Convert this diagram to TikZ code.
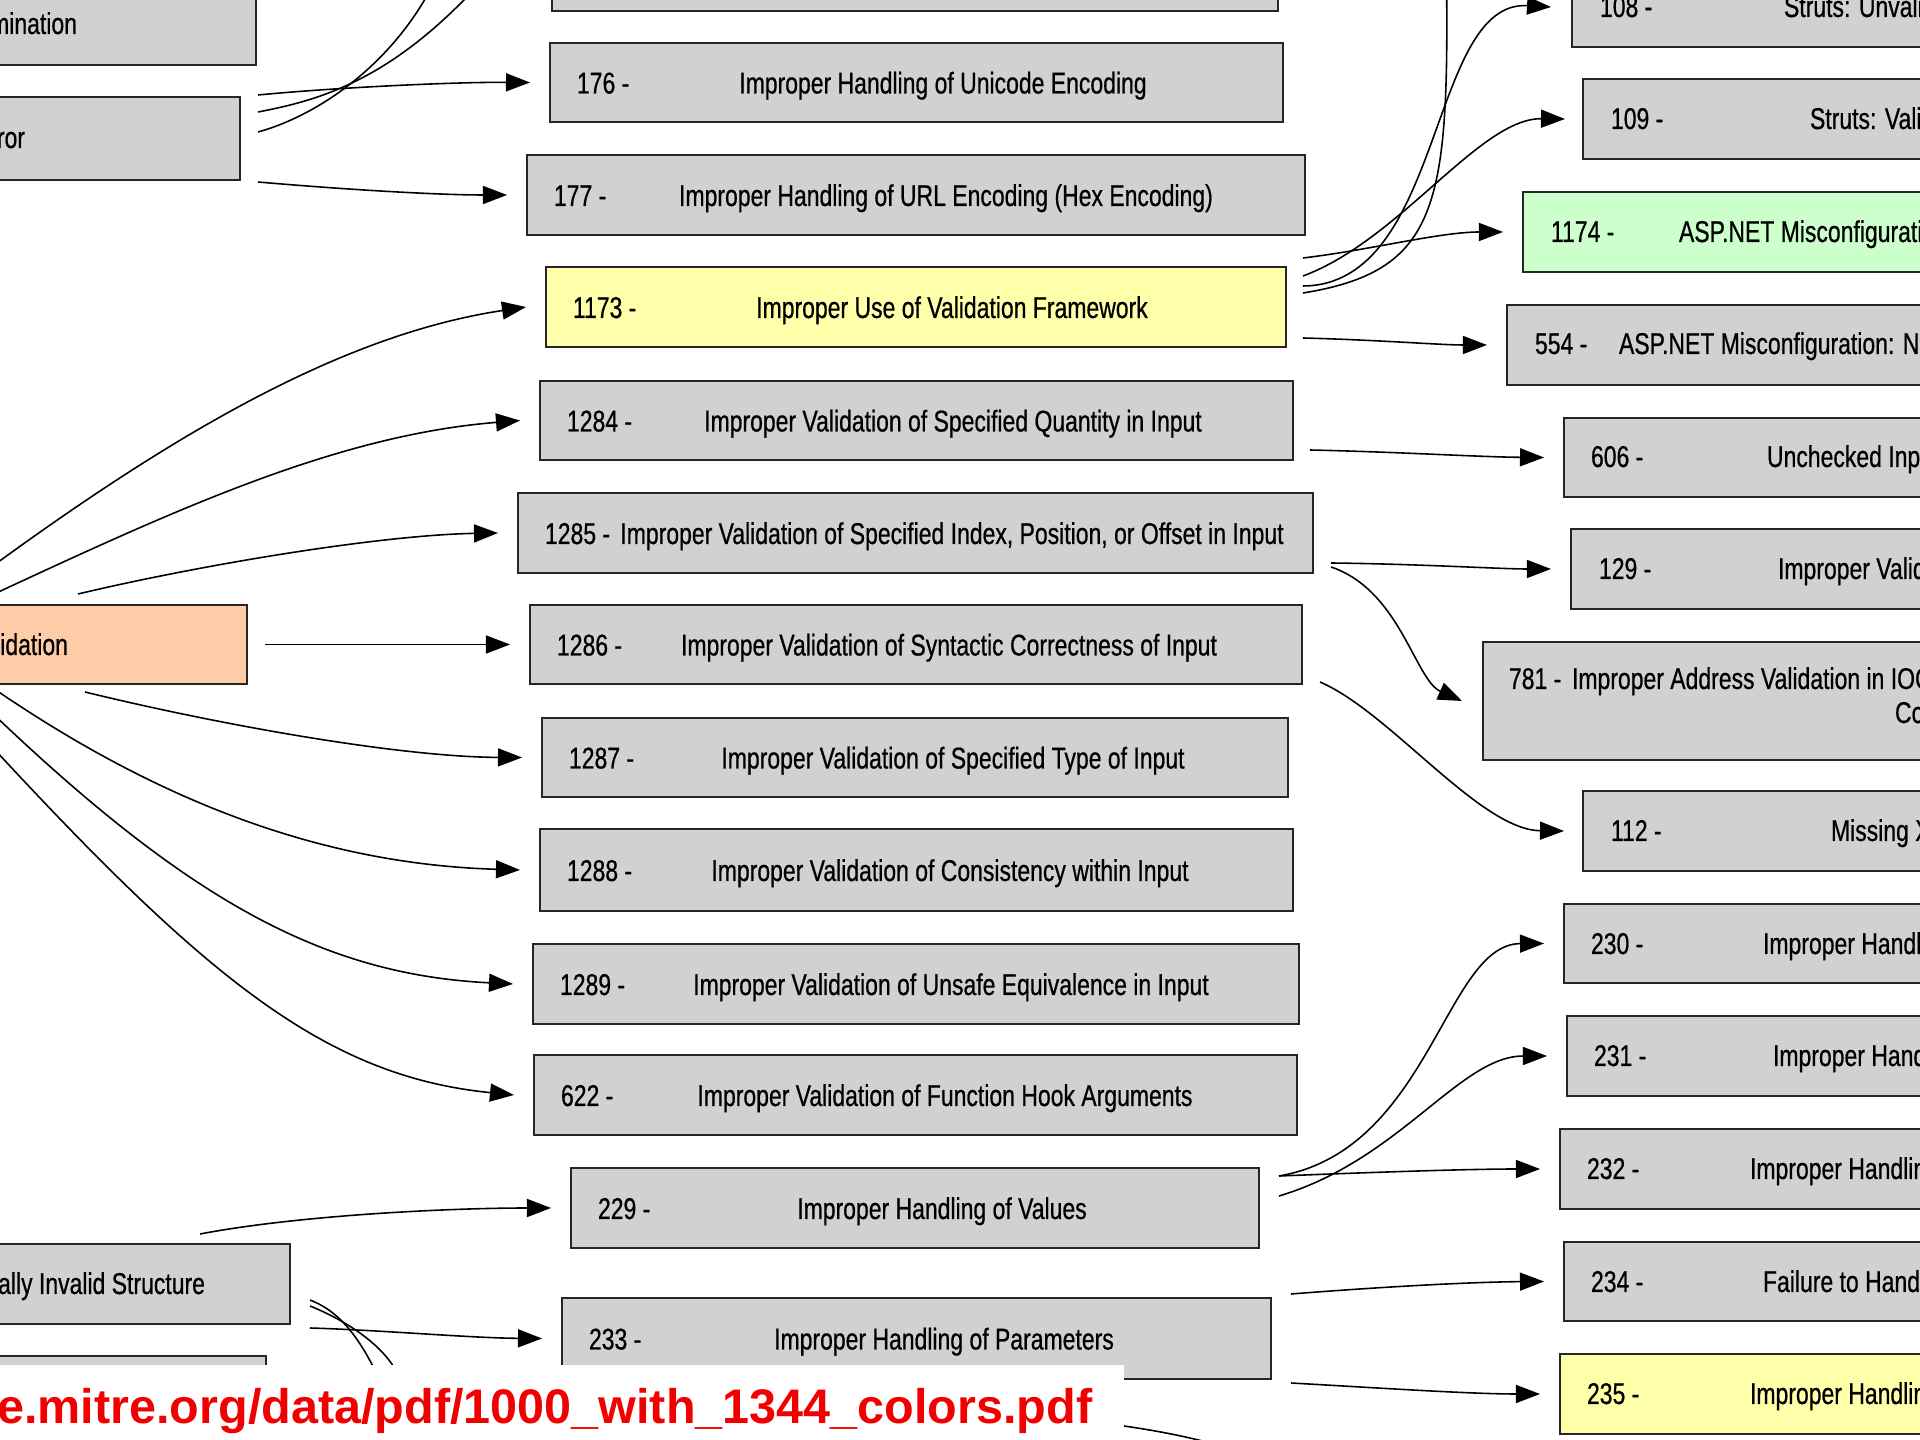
\documentclass[tikz,border=0pt]{standalone}
\usepackage{fontspec}
\newfontfamily\gvfont[FakeStretch=0.765,FakeBold=0.6]{Liberation Sans}
\newfontfamily\urlfont{Liberation Sans}
\usetikzlibrary{arrows.meta}
\definecolor{boxgray}{RGB}{209,209,209}
\definecolor{boxyellow}{RGB}{255,255,170}
\definecolor{boxgreen}{RGB}{204,255,204}
\definecolor{boxorange}{RGB}{255,204,168}
\definecolor{urlred}{RGB}{240,0,0}
\pgfdeclarelayer{canvas}
\pgfdeclarelayer{edges}
\pgfdeclarelayer{urllayer}
\pgfsetlayers{canvas,edges,main,urllayer}
\tikzset{
  gvboxst/.style={rectangle,draw=black!85,line width=0.6pt,inner sep=0pt,outer sep=0pt},
  gvtext/.style={font=\gvfont\fontsize{8.54pt}{10pt}\selectfont,inner sep=0pt,outer sep=0pt,text=black},
  gvedge/.style={line width=0.45pt,draw=black},
  gvarrow/.style={gvedge,-{Triangle[length=0.24cm,width=0.18cm]}},
}
\newcommand{\gvbox}[6]{\node[gvboxst,fill=#6,anchor=north west,minimum width={((#4)-(#2))*0.01cm},minimum height={((#5)-(#3))*0.01cm}] (#1) at (#2,#3) {};}
\newcommand{\gvnum}[4]{\node[gvtext,anchor=base west] (#1) at (#2,{#3+11}) {#4};}
\newcommand{\gvtitle}[4]{\node[gvtext,anchor=base] (#1) at (#2,{#3+11}) {#4};}
\newcommand{\gvtitlew}[4]{\node[gvtext,anchor=base west] (#1) at (#2,{#3+11}) {#4};}
\begin{document}
\begin{tikzpicture}[x=0.01cm,y=-0.01cm]
\useasboundingbox (0,0) rectangle (1920,1440);
\begin{pgfonlayer}{canvas}
\fill[white] (0,0) rectangle (1920,1440);
\end{pgfonlayer}

% ---------- left column ----------
\gvbox{b170}{-400}{-15}{256}{65}{boxgray}
\gvbox{b172}{-400}{97}{240}{180}{boxgray}
\gvbox{b20}{-400}{605}{247}{684}{boxorange}
\gvbox{b228}{-400}{1244}{290}{1324}{boxgray}
\gvbox{b237}{-400}{1356}{266}{1436}{boxgray}
\node[gvtext,anchor=base east] (t170) at (77,34) {mination};
\node[gvtext,anchor=base east] (t172) at (25,148) {ror};
\node[gvtext,anchor=base east] (t20) at (68,655) {idation};
\node[gvtext,anchor=base east] (t228) at (205,1294) {ally Invalid Structure};

% ---------- middle column ----------
\gvbox{b175}{552}{-69}{1278}{11}{boxgray}
\gvbox{b176}{550}{43}{1283}{122}{boxgray}
\gvbox{b177}{527}{155}{1305}{235}{boxgray}
\gvbox{b1173}{546}{267}{1286}{347}{boxyellow}
\gvbox{b1284}{540}{381}{1293}{460}{boxgray}
\gvbox{b1285}{518}{493}{1313}{573}{boxgray}
\gvbox{b1286}{530}{605}{1302}{684}{boxgray}
\gvbox{b1287}{542}{718}{1288}{797}{boxgray}
\gvbox{b1288}{540}{829}{1293}{911}{boxgray}
\gvbox{b1289}{533}{944}{1299}{1024}{boxgray}
\gvbox{b622}{534}{1055}{1297}{1135}{boxgray}
\gvbox{b229}{571}{1168}{1259}{1248}{boxgray}
\gvbox{b233}{562}{1298}{1271}{1379}{boxgray}

\gvnum{n176}{577}{82.5}{176 -}
\gvtitle{t176}{943}{82.5}{Improper Handling of Unicode Encoding}
\gvnum{n177}{554}{195}{177 -}
\gvtitle{t177}{946}{195}{Improper Handling of URL Encoding (Hex Encoding)}
\gvnum{n1173}{573}{307}{1173 -}
\gvtitle{t1173}{952}{307}{Improper Use of Validation Framework}
\gvnum{n1284}{567}{420.5}{1284 -}
\gvtitle{t1284}{953}{420.5}{Improper Validation of Specified Quantity in Input}
\gvnum{n1285}{545}{533}{1285 -}
\gvtitle{t1285}{952}{533}{Improper Validation of Specified Index, Position, or Offset in Input}
\gvnum{n1286}{557}{644.5}{1286 -}
\gvtitle{t1286}{949}{644.5}{Improper Validation of Syntactic Correctness of Input}
\gvnum{n1287}{569}{757.5}{1287 -}
\gvtitle{t1287}{953}{757.5}{Improper Validation of Specified Type of Input}
\gvnum{n1288}{567}{870}{1288 -}
\gvtitle{t1288}{950}{870}{Improper Validation of Consistency within Input}
\gvnum{n1289}{560}{984}{1289 -}
\gvtitle{t1289}{951}{984}{Improper Validation of Unsafe Equivalence in Input}
\gvnum{n622}{561}{1095}{622 -}
\gvtitle{t622}{945}{1095}{Improper Validation of Function Hook Arguments}
\gvnum{n229}{598}{1208}{229 -}
\gvtitle{t229}{942}{1208}{Improper Handling of Values}
\gvnum{n233}{589}{1338.5}{233 -}
\gvtitle{t233}{944}{1338.5}{Improper Handling of Parameters}

% ---------- right column ----------
\gvbox{b108}{1572}{-33}{2300}{47}{boxgray}
\gvbox{b109}{1583}{79}{2300}{159}{boxgray}
\gvbox{b1174}{1523}{192}{2300}{272}{boxgreen}
\gvbox{b554}{1507}{305}{2300}{385}{boxgray}
\gvbox{b606}{1564}{418}{2300}{497}{boxgray}
\gvbox{b129}{1571}{529}{2300}{609}{boxgray}
\gvbox{b781}{1483}{642}{2300}{760}{boxgray}
\gvbox{b112}{1583}{791}{2300}{871}{boxgray}
\gvbox{b230}{1564}{904}{2300}{983}{boxgray}
\gvbox{b231}{1567}{1016}{2300}{1096}{boxgray}
\gvbox{b232}{1560}{1129}{2300}{1209}{boxgray}
\gvbox{b234}{1564}{1242}{2300}{1321}{boxgray}
\gvbox{b235}{1560}{1354}{2300}{1434}{boxyellow}

\gvnum{n108}{1600}{6}{108 -}
\gvtitlew{t108}{1784}{6}{Struts: Unvalidated Action Form}
\gvnum{n109}{1611}{118}{109 -}
\gvtitlew{t109}{1810}{118}{Struts: Validator Turned Off}
\gvnum{n1174}{1551}{231}{1174 -}
\gvtitlew{t1174}{1679}{231}{ASP.NET Misconfiguration: Improper Model Validation}
\gvnum{n554}{1535}{343}{554 -}
\gvtitlew{t554}{1619}{343}{ASP.NET Misconfiguration: Not Using Input Validation Framework}
\gvnum{n606}{1591}{456}{606 -}
\gvtitlew{t606}{1767}{456}{Unchecked Input for Loop Condition}
\gvnum{n129}{1599}{568}{129 -}
\gvtitlew{t129}{1778}{568}{Improper Validation of Array Index}
\gvnum{n781}{1509}{678}{781 -}
\gvtitlew{t781}{1572}{678}{Improper Address Validation in IOCTL with METHOD\_NEITHER I/O}
\gvtitlew{t781b}{1895}{712}{Control Code}
\gvnum{n112}{1611}{830}{112 -}
\gvtitlew{t112}{1831}{830}{Missing XML Validation}
\gvnum{n230}{1591}{943}{230 -}
\gvtitlew{t230}{1763}{943}{Improper Handling of Missing Values}
\gvnum{n231}{1594}{1055}{231 -}
\gvtitlew{t231}{1773}{1055}{Improper Handling of Extra Values}
\gvnum{n232}{1587}{1168}{232 -}
\gvtitlew{t232}{1750}{1168}{Improper Handling of Undefined Values}
\gvnum{n234}{1591}{1281}{234 -}
\gvtitlew{t234}{1763}{1281}{Failure to Handle Missing Parameter}
\gvnum{n235}{1587}{1393}{235 -}
\gvtitlew{t235}{1750}{1393}{Improper Handling of Extra Parameters}

% ---------- free ends off the picture ----------
\coordinate (c172a) at (500,-40);
\coordinate (c172b) at (440,-30);
\coordinate (c20a) at (-60,605);
\coordinate (c20b) at (-60,619);
\coordinate (c20c) at (-60,650);
\coordinate (c20d) at (-60,662);
\coordinate (c20e) at (-60,690);
\coordinate (c228a) at (415,1480);
\coordinate (c228b) at (1240,1452);
\coordinate (c1173up) at (1446,-60);

% ---------- connectors ----------
\begin{pgfonlayer}{edges}
% from 172
\draw[gvarrow] ([shift={(18,-43.5)}]b172.east) .. controls (330,88) and (450,82) .. ([shift={(-20,0)}]b176.west);
\draw[gvedge] ([shift={(18,-26.5)}]b172.east) .. controls (320,100) and (400,80) .. (c172a);
\draw[gvedge] ([shift={(18,-6.5)}]b172.east) .. controls (320,115) and (400,60) .. (c172b);
\draw[gvarrow] ([shift={(18,43.5)}]b172.east) .. controls (350,190) and (440,195) .. ([shift={(-20,0)}]b177.west);
% into the middle column from the left
\draw[gvarrow] (c20a) .. controls (140,455) and (326,337) .. ([shift={(-20,0)}]b1173.west);
\draw[gvarrow] (c20b) .. controls (140,527) and (320,436.5) .. ([shift={(-20,0)}]b1284.west);
\draw[gvarrow] ([shift={(-169,-11)}]b20.north east) .. controls (200,565) and (380,535) .. ([shift={(-20,0)}]b1285.west);
\draw[gvarrow] ([shift={(18,0)}]b20.east) -- ([shift={(-20,0)}]b1286.west);
\draw[gvarrow] ([shift={(-162,8)}]b20.south east) .. controls (220,725) and (400,757) .. ([shift={(-20,0)}]b1287.west);
\draw[gvarrow] (c20c) .. controls (140,800) and (320,864) .. ([shift={(-20,0)}]b1288.west);
\draw[gvarrow] (c20d) .. controls (170,892) and (313,974) .. ([shift={(-20,0)}]b1289.west);
\draw[gvarrow] (c20e) .. controls (190,965) and (314,1075) .. ([shift={(-20,0)}]b622.west);
% from 228
\draw[gvarrow] ([shift={(-90,-10)}]b228.north east) .. controls (300,1215) and (450,1208) .. ([shift={(-20,0)}]b229.west);
\draw[gvarrow] ([shift={(20,44)}]b228.east) .. controls (380,1330) and (470,1338) .. ([shift={(-20,0)}]b233.west);
\draw[gvedge] ([shift={(20,16)}]b228.east) .. controls (340,1312) and (375,1340) .. (c228a);
\draw[gvedge] ([shift={(20,22)}]b228.east) .. controls (350,1322) and (390,1350) .. (400,1380) .. controls (430,1440) and (1000,1370) .. (c228b);
% from 1173
\draw[gvarrow] ([shift={(17,-49)}]b1173.east) .. controls (1370,250) and (1440,232) .. ([shift={(-20,0)}]b1174.west);
\draw[gvarrow] ([shift={(17,-31)}]b1173.east) .. controls (1400,240) and (1480,118) .. ([shift={(-18,0)}]b109.west);
\draw[gvarrow] ([shift={(17,-21)}]b1173.east) .. controls (1445,285) and (1428,0) .. ([shift={(-21,0)}]b108.west);
\draw[gvedge] ([shift={(17,-14)}]b1173.east) .. controls (1445,270) and (1450,200) .. (c1173up);
\draw[gvarrow] ([shift={(17,31)}]b1173.east) .. controls (1380,340) and (1440,345) .. ([shift={(-20,0)}]b554.west);
% from 1284, 1285, 1286
\draw[gvarrow] ([shift={(17,29.5)}]b1284.east) .. controls (1400,452) and (1480,457) .. ([shift={(-20,0)}]b606.west);
\draw[gvarrow] ([shift={(18,30)}]b1285.east) .. controls (1420,564) and (1500,569) .. ([shift={(-20,0)}]b129.west);
\draw[gvarrow] ([shift={(18,34)}]b1285.east) .. controls (1400,590) and (1415,680) .. ([shift={(-21,0)}]b781.west);
\draw[gvarrow] ([shift={(18,37.5)}]b1286.east) .. controls (1390,712) and (1480,830) .. ([shift={(-19,0)}]b112.west);
% from 229
\draw[gvarrow] ([shift={(20,-32)}]b229.east) .. controls (1430,1150) and (1445,944) .. ([shift={(-20,0)}]b230.west);
\draw[gvarrow] ([shift={(20,-12)}]b229.east) .. controls (1400,1160) and (1460,1056) .. ([shift={(-20,0)}]b231.west);
\draw[gvarrow] ([shift={(20,-32)}]b229.east) .. controls (1380,1172) and (1470,1169) .. ([shift={(-20,0)}]b232.west);
% from 233
\draw[gvarrow] ([shift={(20,-44.5)}]b233.east) .. controls (1380,1287) and (1470,1282) .. ([shift={(-20,0)}]b234.west);
\draw[gvarrow] ([shift={(20,44.5)}]b233.east) .. controls (1380,1388) and (1470,1394) .. ([shift={(-20,0)}]b235.west);
\end{pgfonlayer}

% ---------- source caption ----------
\begin{pgfonlayer}{urllayer}
\fill[white] (0,1365) rectangle (1124,1445);
\node[anchor=base east,inner sep=0pt,text=urlred,font=\urlfont\bfseries\fontsize{13.8pt}{16pt}\selectfont] (url) at (1093,1423) {e.mitre.org/data/pdf/1000\_with\_1344\_colors.pdf};
\end{pgfonlayer}
\end{tikzpicture}
\end{document}
